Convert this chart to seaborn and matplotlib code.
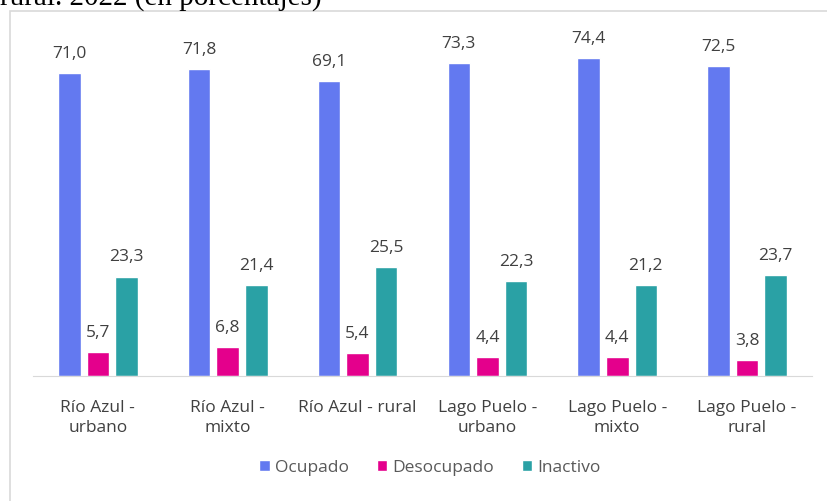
import pandas as pd
import matplotlib.pyplot as plt
import seaborn as sns
from matplotlib.patches import Rectangle

# Condición de actividad por zona (en porcentajes)
categories = ["Río Azul -\nurbano", "Río Azul -\nmixto", "Río Azul - rural",
              "Lago Puelo -\nurbano", "Lago Puelo -\nmixto", "Lago Puelo -\nrural"]
series_names = ["Ocupado", "Desocupado", "Inactivo"]
ocupado = [71.0, 71.8, 69.1, 73.3, 74.4, 72.5]
desocupado = [5.7, 6.8, 5.4, 4.4, 4.4, 3.8]
inactivo = [23.3, 21.4, 25.5, 22.3, 21.2, 23.7]
colors = ["#6379F0", "#E4008C", "#2AA1A5"]

df = pd.DataFrame({
    "zona": categories * 3,
    "condicion": [s for s in series_names for _ in categories],
    "valor": ocupado + desocupado + inactivo,
})

sns.set_style("white")
plt.rcParams['font.family'] = ['Open Sans', 'DejaVu Sans']
FS = 12.5

fig = plt.figure(figsize=(8.28, 5.01), dpi=100)
ax = fig.add_axes([33 / 828, 125 / 501, 779 / 828, 341.6 / 501])

sns.barplot(data=df, x="zona", y="valor", hue="condicion", hue_order=series_names,
            palette=colors, width=0.66, gap=0.21, ax=ax, saturation=1)

for cont in ax.containers:
    labels = [f"{v:.1f}".replace(".", ",") for v in cont.datavalues]
    ax.bar_label(cont, labels=labels, padding=8, fontsize=FS, color="#404040")

ax.set_ylim(0, 80)
ax.set_xlim(-0.5, 5.5)
ax.set_xlabel("")
ax.set_ylabel("")
ax.set_yticks([])
for side in ["left", "right", "top"]:
    ax.spines[side].set_visible(False)
ax.spines["bottom"].set_color("#D9D9D9")
ax.tick_params(axis="x", length=0, pad=17, labelsize=FS, labelcolor="#404040")
plt.setp(ax.get_xticklabels(), linespacing=1.4)

handles, labs = ax.get_legend_handles_labels()
ax.legend(handles, labs, loc="center", bbox_to_anchor=(430 / 828, 33 / 501), bbox_transform=fig.transFigure,
          ncol=3, frameon=False, fontsize=FS, labelcolor="#595959", handlelength=0.6,
          handleheight=0.6, handletextpad=0.3, columnspacing=1.6)

# marco del gráfico (recortado a derecha y abajo)
fig.patches.append(Rectangle((10 / 828, -0.05), 1.0, 1 - 11 / 501 + 0.05, transform=fig.transFigure,
                             fill=False, edgecolor="#D9D9D9", linewidth=1.2))

fig.text(0.0, 1 - 5 / 501, "rural. 2022 (en porcentajes)", family="Liberation Serif",
         fontsize=21, va="baseline", ha="left", color="black")

fig.savefig("out.png", dpi=100)
